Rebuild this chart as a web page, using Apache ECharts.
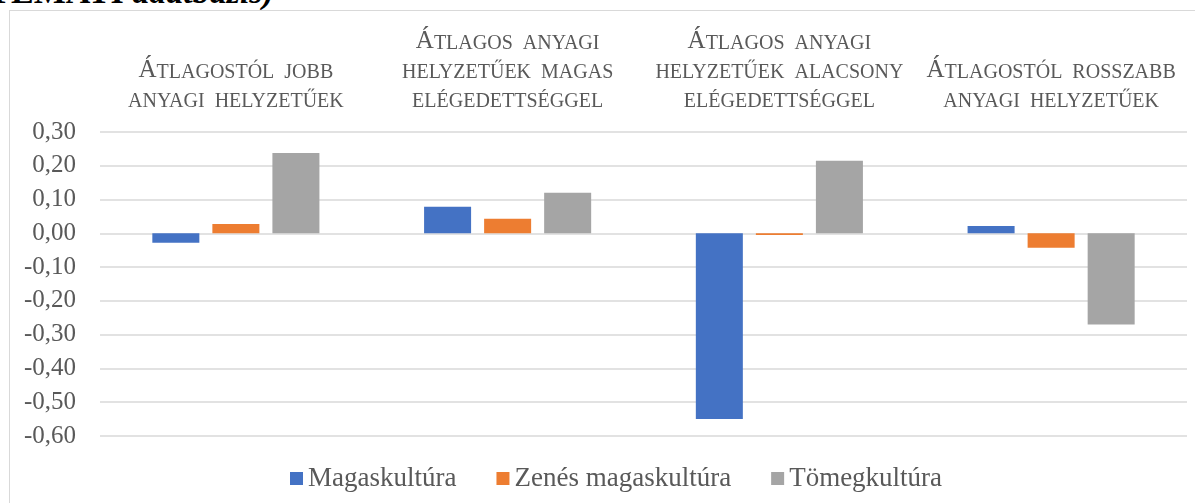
<!DOCTYPE html>
<html>
<head>
<meta charset="utf-8">
<script src="https://cdn.jsdelivr.net/npm/echarts@6/dist/echarts.min.js"></script>
<style>
    html, body { margin: 0; padding: 0; background: #fff; overflow: hidden; }
    #chart { position: absolute; left: 0; top: 0; width: 1195px; height: 503px; }
    #frame { position: absolute; left: 9px; top: 10px; width: 1200px; height: 520px;
             border: 1px solid #d9d9d9; pointer-events: none; }
    #source { position: absolute; left: -40px; top: -23px; font: bold 34px/30px 'Liberation Serif', serif;
              color: #000; white-space: nowrap; }
</style>
</head>
<body>
<div id="source">GYEMATI <i>adatbázis)</i></div>
<div id="chart"></div>
<div id="frame"></div>
<script>
// kategóriák (sortöréssel, ahogy a képen)
var categories = [
    'Átlagostól jobb\nanyagi helyzetűek',
    'Átlagos anyagi\nhelyzetűek magas\nelégedettséggel',
    'Átlagos anyagi\nhelyzetűek alacsony\nelégedettséggel',
    'Átlagostól rosszabb\nanyagi helyzetűek'
]
var seriesNames = ['Magaskultúra', 'Zenés magaskultúra', 'Tömegkultúra']
var magaskultura = [-0.028, 0.079, -0.55, 0.022]
var zenesMagaskultura = [0.028, 0.043, -0.005, -0.043]
var tomegkultura = [0.238, 0.12, 0.215, -0.27]
var colors = ['#4472C4', '#ED7D31', '#A5A5A5']

// kiskapitális: nagybetű nagy méretben, a többi kisebb nagybetűvel
function smallCaps(text) {
    return text.split('\n').map(function (line) {
        var out = ''
        var buf = ''
        for (var i = 0; i < line.length; i++) {
            var ch = line[i]
            if (ch !== ' ' && ch === ch.toUpperCase() && ch !== ch.toLowerCase()) {
                if (buf) { out += '{s|' + buf + '}'; buf = '' }
                out += '{b|' + ch + '}'
            } else {
                buf += ch === ' ' ? '  ' : ch.toUpperCase()
            }
        }
        if (buf) out += '{s|' + buf + '}'
        return out
    }).join('\n')
}

var chart = echarts.init(document.getElementById('chart'))
var txt = '#595959'
var font = 'Liberation Serif'

chart.setOption({
    animation: false,
    color: colors,
    textStyle: { fontFamily: font },
    grid: { left: 100, right: 8, top: 132, bottom: 67 },
    legend: {
        bottom: 6,
        left: 285,
        icon: 'rect',
        itemWidth: 13,
        itemHeight: 13,
        itemGap: 40,
        formatter: function (name) { return '{n|' + name + '}' },
        textStyle: {
            color: txt, fontFamily: font, fontSize: 27,
            rich: { n: { color: txt, fontFamily: font, fontSize: 27 } }
        },
        data: seriesNames
    },
    xAxis: {
        type: 'category',
        position: 'top',
        data: categories,
        axisLine: { show: false },
        axisTick: { show: false },
        splitLine: { show: false },
        axisLabel: {
            margin: 20,
            interval: 0,
            color: txt,
            fontFamily: font,
            formatter: function (v) { return smallCaps(v) },
            rich: {
                b: { fontSize: 25, lineHeight: 29, color: txt, fontFamily: font, verticalAlign: 'bottom' },
                s: { fontSize: 20, lineHeight: 29, color: txt, fontFamily: font, verticalAlign: 'bottom' }
            }
        }
    },
    yAxis: {
        type: 'value',
        min: -0.6,
        max: 0.3,
        interval: 0.1,
        axisLine: { show: false },
        axisTick: { show: false },
        splitLine: { lineStyle: { color: '#d9d9d9', width: 1.5 } },
        axisLabel: {
            margin: 24,
            color: txt,
            fontFamily: font,
            fontSize: 25,
            formatter: function (v) { return '{v|' + v.toFixed(2).replace('.', ',') + '}' },
            rich: { v: { color: txt, fontFamily: font, fontSize: 25 } }
        }
    },
    series: [
        { name: seriesNames[0], type: 'bar', data: magaskultura, barWidth: '17.3%', barGap: '27.7%' },
        { name: seriesNames[1], type: 'bar', data: zenesMagaskultura, barWidth: '17.3%', barGap: '27.7%' },
        { name: seriesNames[2], type: 'bar', data: tomegkultura, barWidth: '17.3%', barGap: '27.7%' }
    ]
})
</script>
</body>
</html>
